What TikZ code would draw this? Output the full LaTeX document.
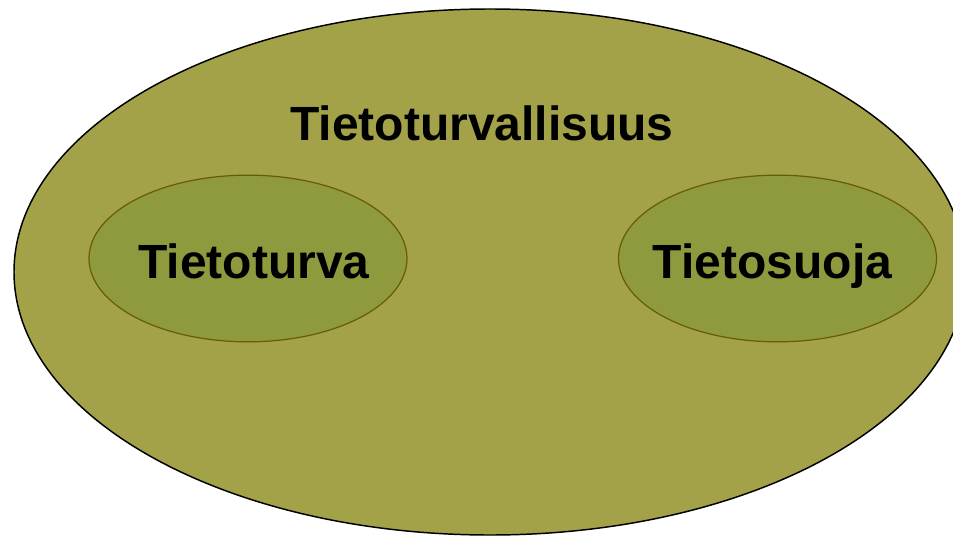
\documentclass[tikz,border=0pt]{standalone}
\usepackage{fontspec}
\setmainfont{Liberation Sans}
\usetikzlibrary{shapes.geometric,positioning}
\definecolor{outerfill}{RGB}{163,162,72}
\definecolor{innerfill}{RGB}{143,154,62}
\definecolor{innerline}{RGB}{102,92,0}
\begin{document}
\begin{tikzpicture}[x=0.75pt, y=0.75pt, every node/.style={font=\fontsize{36}{40}\selectfont\bfseries}]
\tikzset{area/.style={draw, ellipse, inner sep=0pt, outer sep=0pt}}
\tikzset{outerarea/.style={area, fill=outerfill, line width=1.1pt, minimum width=714pt, minimum height=394.5pt}}
\tikzset{innerarea/.style={area, fill=innerfill, draw=innerline, line width=0.9pt, minimum width=238.5pt, minimum height=125pt}}
\tikzset{caption/.style={anchor=base, inner sep=0pt}}
\useasboundingbox (0,0) rectangle (953,537);
\clip (0,0) rectangle (953,537);
\node[outerarea] (security) at (490,265) {};
\node[innerarea] (infosec) at (248,278.5) {};
\node[innerarea] (privacy) at (777.5,278.5) {};
\node[caption] (securitytext) at (482,397) {Tietoturvallisuus};
\node[caption] (infosectext) at (254,259) {Tietoturva};
\node[caption] (privacytext) at (772.5,259) {Tietosuoja};
\end{tikzpicture}
\end{document}
